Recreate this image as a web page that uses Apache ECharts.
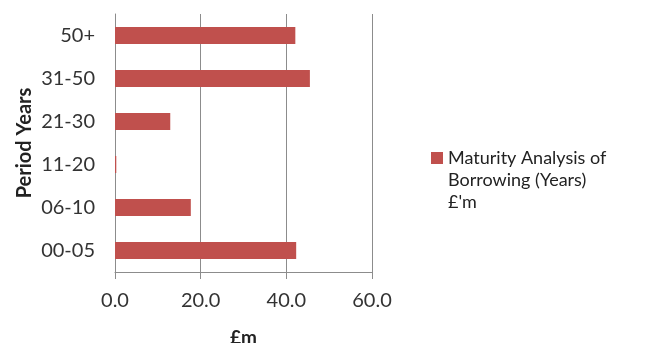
<!DOCTYPE html>
<html><head><meta charset="utf-8">
<script src="https://cdn.jsdelivr.net/npm/echarts@6/dist/echarts.min.js"></script>
<style>html,body{margin:0;padding:0;background:#fff}#c{width:646px;height:343px}</style>
</head><body><div id="c"></div>
<script>
const categories = ['00-05','06-10','11-20','21-30','31-50','50+'];
const values = [42.3, 17.7, 0.3, 12.9, 45.5, 42.1];
const seriesName = "Maturity Analysis of\nBorrowing (Years)\n£'m";
const xTicks = {min: 0, max: 60, interval: 20};
const font = "Lato, 'Open Sans', sans-serif";
const chart = echarts.init(document.getElementById('c'), null, {renderer: 'canvas'});
chart.setOption({
  animation: false,
  grid: {left: 115, right: 274, top: 14, bottom: 71, containLabel: false, outerBoundsMode: 'none'},
  legend: {
    left: 426, top: 98, orient: 'vertical',
    itemWidth: 12, itemHeight: 12, itemGap: 5,
    icon: 'rect',
    formatter: name => '\n\n' + name,
    textStyle: {fontFamily: font, fontSize: 18, color: '#222', lineHeight: 22},
    data: [seriesName]
  },
  xAxis: {
    type: 'value', min: xTicks.min, max: xTicks.max, interval: xTicks.interval,
    name: '£m', nameLocation: 'middle', nameGap: 56,
    nameTextStyle: {fontFamily: font, fontSize: 19, fontWeight: 'bold', color: '#222'},
    axisLine: {show: true, lineStyle: {color: '#8c8c8c'}},
    axisTick: {show: true, length: 7, lineStyle: {color: '#8c8c8c'}},
    splitLine: {show: true, lineStyle: {color: '#8c8c8c'}},
    axisLabel: {fontFamily: font, fontSize: 20, color: '#333', margin: 19, formatter: v => v.toFixed(1)}
  },
  yAxis: {
    type: 'category', data: categories,
    name: 'Period Years', nameLocation: 'middle', nameGap: 80, nameRotate: 90,
    nameTextStyle: {fontFamily: font, fontSize: 20, fontWeight: 'bold', color: '#222'},
    axisLine: {show: true, lineStyle: {color: '#8c8c8c'}},
    axisTick: {show: false},
    axisLabel: {fontFamily: font, fontSize: 20, color: '#333', margin: 20}
  },
  series: [{
    name: seriesName, type: 'bar', data: values, barWidth: '40%',
    itemStyle: {color: '#C0504D'}
  }]
});
</script></body></html>
